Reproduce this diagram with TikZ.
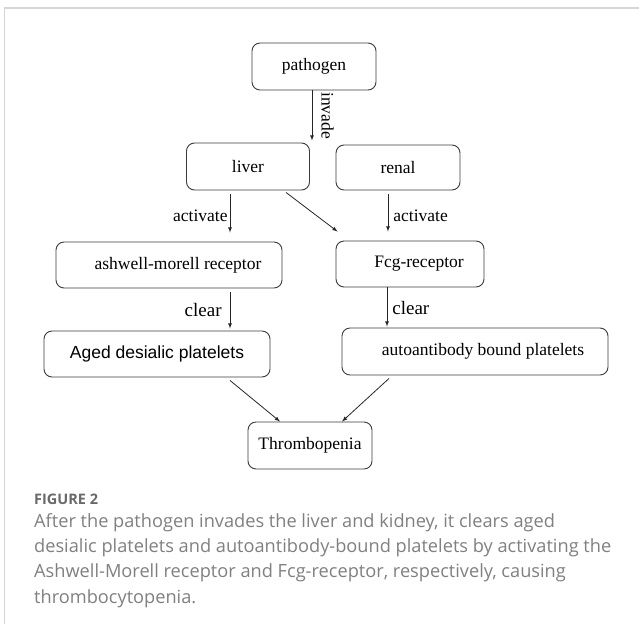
\documentclass[tikz,border=0pt]{standalone}
\usepackage{fontspec}
\setmainfont{Liberation Serif}
\newfontfamily\arialfont{Liberation Sans}
\newfontfamily\capfont{Open Sans}
\usetikzlibrary{arrows,calc}
\definecolor{box_gray}{RGB}{60, 60, 60}
\definecolor{frame_gray}{RGB}{214, 214, 214}
\definecolor{cap_gray}{RGB}{128, 128, 128}
\definecolor{fig_gray}{RGB}{105, 105, 105}
\tikzstyle{bx}=[rectangle,rounded corners=8pt,draw=box_gray,fill=white,
  line width=0.9 pt,inner sep=0pt,minimum height=47pt,
  font=\fontsize{17.5}{20}\selectfont]
\tikzstyle{arr}=[->,>=latex,line width=0.8 pt,draw=black!85,
  font=\fontsize{17.5}{20}\selectfont]

\begin{document}
\begin{tikzpicture}[x=1pt,y=-1pt]
        \useasboundingbox (0,0) rectangle (639,624);
        \draw [frame_gray,line width=1.5pt] (639,8) -- (4.5,8) -- (4.5,624);
        \node [style=bx,minimum width=124pt] (pa) at (314,66.5) {pathogen};
        \node [style=bx,minimum width=123pt] (li) at (248,166.5) {liver};
        \node [style=bx,minimum width=124pt,minimum height=45pt] (re) at (398,167.5) {renal};
        \node [style=bx,minimum width=226pt,minimum height=46pt] (amr) at (169,265) {\hspace*{18pt}ashwell-morell receptor};
        \node [style=bx,minimum width=148pt,minimum height=46pt] (fcg) at (410,264) {\hspace*{18pt}Fcg-receptor};
        \node [style=bx,minimum width=226pt,minimum height=46pt] (ag) at (157,354) {\arialfont Aged desialic platelets};
        \node [style=bx,minimum width=266pt] (ab) at (475,351.5) {\hspace*{16pt}autoantibody bound platelets};
        \node [style=bx,minimum width=124pt] (th) at (310,445.5) {Thrombopenia};
        \draw [style=arr] ([xshift=-2pt]pa.south) -- ([xshift=-2pt,yshift=2pt]pa.south |- li.north)
          node [midway,anchor=south,rotate=-90,inner sep=9pt] {invade};
        \draw [style=arr,shorten <=4pt,shorten >=9pt] ([xshift=-18pt]li.south) -- ([xshift=-18pt]li.south |- amr.north)
          node [midway,left,inner sep=2pt] {activate};
        \draw [style=arr] ([xshift=38pt,yshift=-2pt]li.south) -- ([xshift=2pt,yshift=9pt]fcg.north west);
        \draw [style=arr,shorten <=4pt,shorten >=9pt] ([xshift=-10pt]re.south) -- ([xshift=-10pt]re.south |- fcg.north)
          node [midway,right,inner sep=5pt] {activate};
        \draw [style=arr,shorten <=4pt,shorten >=2pt] ([xshift=61pt]amr.south) -- ([xshift=61pt]amr.south |- ag.north)
          node [midway,left,inner sep=8pt,font=\fontsize{19}{22}\selectfont] {clear};
        \draw [style=arr,shorten >=1pt] ([xshift=-23pt]fcg.south) -- ([xshift=-23pt]fcg.south |- ab.north)
          node [midway,right,inner sep=5pt,font=\fontsize{19}{22}\selectfont] {clear};
        \draw [style=arr] ([xshift=73pt,yshift=-3pt]ag.south) -- ([xshift=-30pt]th.north);
        \draw [style=arr] ([xshift=-86pt,yshift=-3pt]ab.south) -- ([xshift=32pt]th.north);
        \node [anchor=base west,inner sep=0pt,text=fig_gray,
          font=\capfont\bfseries\fontsize{14.5}{18}\selectfont] (fig) at (34,504) {FIGURE 2};
        \node [anchor=north west,inner sep=0pt,align=left,text=cap_gray,
          font=\capfont\fontsize{18.2}{25.3}\selectfont] (cap) at (34,513)
          {After the pathogen invades the liver and kidney, it clears aged\\
           desialic platelets and autoantibody-bound platelets by activating the\\
           Ashwell-Morell receptor and Fcg-receptor, respectively, causing\\
           thrombocytopenia.};
\end{tikzpicture}
\end{document}
